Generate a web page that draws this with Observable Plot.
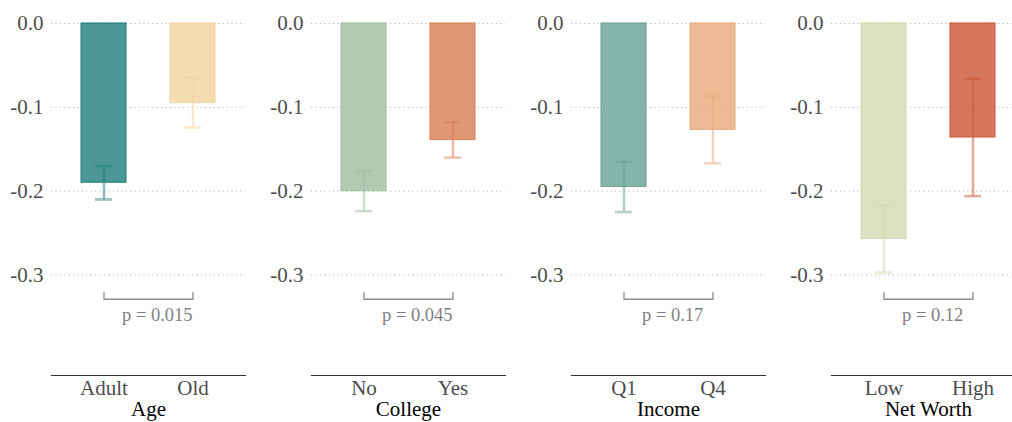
<!DOCTYPE html>
<html>
<head>
<meta charset="utf-8">
<script src="https://cdn.jsdelivr.net/npm/d3@7"></script>
<script src="https://cdn.jsdelivr.net/npm/@observablehq/plot@0.6"></script>
<style>
  html, body { margin: 0; padding: 0; background: #fff; }
  body { width: 1012px; height: 422px; overflow: hidden; }
  #row { display: flex; flex-direction: row; width: 1040px; }
  .panel { width: 260px; flex: none; }
  .panel svg { display: block; }
</style>
</head>
<body>
<div id="row"></div>
<script>
// ---- data ----
const groups = ["Age", "College", "Income", "Net Worth"];
const categories = [["Adult", "Old"], ["No", "Yes"], ["Q1", "Q4"], ["Low", "High"]];
const means = [[-0.190, -0.095], [-0.200, -0.139], [-0.195, -0.127], [-0.257, -0.136]];
const lowers = [[-0.210, -0.124], [-0.224, -0.160], [-0.225, -0.167], [-0.297, -0.206]];
const uppers = [[-0.170, -0.064], [-0.176, -0.118], [-0.165, -0.087], [-0.217, -0.066]];
const pValues = ["p = 0.015", "p = 0.045", "p = 0.17", "p = 0.12"];
const yTicks = [0, -0.1, -0.2, -0.3];
const yDomain = [-0.42, 0];
const bracketTop = -0.321, bracketBase = -0.329, pLabelY = -0.3475;

// ---- styles ----
const palettes = [
  ["#1e7e7c", "#f1d3a0"],
  ["#a0bda3", "#d87d54"],
  ["#66a192", "#e7aa7b"],
  ["#d3daaf", "#ca5536"]
];
const FONT = "'Liberation Serif', 'DejaVu Serif', serif";

const row = document.getElementById("row");

groups.forEach((g, i) => {
  const cats = categories[i];
  const data = cats.map((c, j) => ({cat: c, mean: means[i][j], lo: lowers[i][j], hi: uppers[i][j]}));
  const bracket = [
    {cat: cats[0], y: bracketTop},
    {cat: cats[0], y: bracketBase},
    {cat: cats[1], y: bracketBase},
    {cat: cats[1], y: bracketTop}
  ];
  const chart = Plot.plot({
    width: 260,
    height: 422,
    marginLeft: 51,
    marginRight: 15,
    marginTop: 23,
    marginBottom: 47,
    style: {fontFamily: FONT, background: "white", color: "#555", overflow: "visible"},
    x: {domain: cats, paddingInner: 0.49, paddingOuter: 0.33, axis: null},
    y: {domain: yDomain, axis: null},
    color: {domain: cats, range: palettes[i]},
    marks: [
      Plot.gridY(yTicks, {stroke: "#b5b5b5", strokeOpacity: 1, strokeWidth: 1, strokeDasharray: "1.2,3.2"}),
      Plot.axisY(yTicks, {tickSize: 0, tickPadding: 8, fontSize: 21, fill: "#4d4d4d", tickFormat: d => d.toFixed(1), label: null}),
      Plot.barY(data, {x: "cat", y: "mean", fill: "cat", fillOpacity: 0.8, stroke: "cat", strokeOpacity: 0.85, strokeWidth: 1.2}),
      Plot.ruleX(data, {x: "cat", y1: "lo", y2: "hi", stroke: "cat", strokeOpacity: 0.5, strokeWidth: 2.5}),
      Plot.tickY(data, {x: "cat", y: "lo", stroke: "cat", strokeOpacity: 0.5, strokeWidth: 2.5, insetLeft: 14, insetRight: 14}),
      Plot.tickY(data, {x: "cat", y: "hi", stroke: "cat", strokeOpacity: 0.5, strokeWidth: 2.5, insetLeft: 14, insetRight: 14}),
      Plot.line(bracket, {x: "cat", y: "y", stroke: "#8a8a8a", strokeWidth: 1.3}),
      Plot.text([pValues[i]], {x: [cats[0]], y: [pLabelY], text: d => d, textAnchor: "start", dx: 18, fontSize: 18.5, fill: "#808080"}),
      Plot.frame({anchor: "bottom", stroke: "#333", strokeWidth: 1.2}),
      Plot.axisX({tickSize: 0, tickPadding: 5, fontSize: 21, fill: "#4d4d4d", label: null}),
      Plot.text([g], {frameAnchor: "bottom", dy: 40, fontSize: 21, fill: "#000"})
    ]
  });
  const div = document.createElement("div");
  div.className = "panel";
  div.appendChild(chart);
  row.appendChild(div);
});
</script>
</body>
</html>
